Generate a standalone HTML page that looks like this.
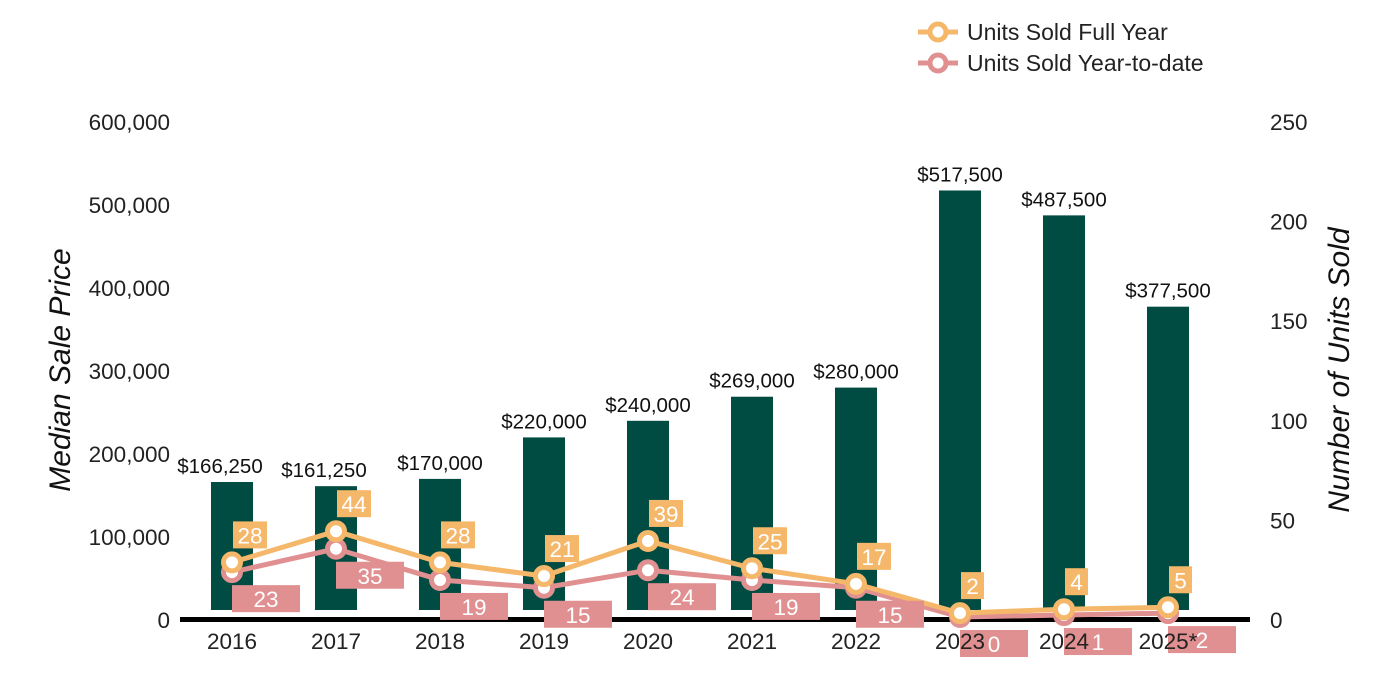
<!DOCTYPE html>
<html><head><meta charset="utf-8"><style>
html,body{margin:0;padding:0;background:#fff;}
svg{display:block;font-family:"Liberation Sans",Arial,sans-serif;}
</style></head><body>
<svg id="chart" width="1400" height="700" viewBox="0 0 1400 700" xmlns="http://www.w3.org/2000/svg">
<g id="legend">
  <g>
    <line x1="918" y1="32" x2="958" y2="32" stroke="#f5b76a" stroke-width="5"/>
    <circle cx="938" cy="32" r="8" fill="#fff" stroke="#f5b76a" stroke-width="5"/>
    <text x="967" y="40" font-size="23" fill="#222">Units Sold Full Year</text>
  </g>
  <g>
    <line x1="918" y1="63" x2="958" y2="63" stroke="#e09090" stroke-width="5"/>
    <circle cx="938" cy="63" r="8" fill="#fff" stroke="#e09090" stroke-width="5"/>
    <text x="967" y="71" font-size="23" fill="#222">Units Sold Year-to-date</text>
  </g>
</g>
<text transform="translate(70,370) rotate(-90)" text-anchor="middle" font-size="30" font-style="italic" fill="#111">Median Sale Price</text>
<text transform="translate(1349,370) rotate(-90)" text-anchor="middle" font-size="30" font-style="italic" fill="#111">Number of Units Sold</text>
<g id="bars"></g>
<g id="lines"></g>
<g id="labels"></g>
<g id="axes"></g>
</svg>
<script>
const categories = ["2016","2017","2018","2019","2020","2021","2022","2023","2024","2025*"];
const prices = [166250,161250,170000,220000,240000,269000,280000,517500,487500,377500];
const unitsFull = [28,44,28,21,39,25,17,2,4,5];
const unitsYtd = [23,35,19,15,24,19,15,0,1,2];
const leftTicks = [0,100000,200000,300000,400000,500000,600000];
const rightTicks = [0,50,100,150,200,250];

const NS = "http://www.w3.org/2000/svg";
function mk(tag, attrs, parent, txt){
  const e = document.createElementNS(NS, tag);
  for (const k in attrs) e.setAttribute(k, attrs[k]);
  if (txt !== undefined) e.textContent = txt;
  parent.appendChild(e);
  return e;
}
const xPos = i => 232 + i * 104;
const yPrice = v => 620 - v * 0.00083;
const yRightTick = v => 620 - v * 1.992;
const yUnits = v => 617 - v * 1.95;
const fmt = n => n.toLocaleString("en-US");

const axes = document.getElementById("axes");
leftTicks.forEach(t => {
  const e = mk("text", {x:170, y:yPrice(t)+8, "text-anchor":"end", "font-size":22.5, fill:"#222"}, axes, fmt(t));
  
  
});
rightTicks.forEach(t => {
  const e = mk("text", {x:1270, y:yRightTick(t)+8, "font-size":22.5, fill:"#222"}, axes, String(t));
  
  
});
categories.forEach((c, i) => {
  const e = mk("text", {x:xPos(i), y:649, "text-anchor":"middle", "font-size":22.5, fill:"#222"}, axes, c);
  
  
});

const bars = document.getElementById("bars");
prices.forEach((p, i) => {
  const y = yPrice(p);
  const r = mk("rect", {x:xPos(i)-21, y:y, width:42, height:610-y, fill:"#004c43"}, bars);
  
  
  const shift = i < 2 ? -12 : 0;
  const t = mk("text", {x:xPos(i)+shift, y:y-9, "text-anchor":"middle", "font-size":20.5, fill:"#111"}, bars, "$" + fmt(p));
  
  
});
const axisLine = mk("line", {x1:180, x2:1250, y1:619.5, y2:619.5, stroke:"#000", "stroke-width":5}, bars);



const lines = document.getElementById("lines");
function series(vals, color, name){
  const pts = vals.map((v,i) => xPos(i) + "," + yUnits(v)).join(" ");
  const pl = mk("polyline", {points:pts, fill:"none", stroke:color, "stroke-width":5, "stroke-linejoin":"round"}, lines);
  
  
  vals.forEach((v,i) => {
    const c = mk("circle", {cx:xPos(i), cy:yUnits(v), r:8.5, fill:"#fff", stroke:color, "stroke-width":5}, lines);
    
    
  });
}
series(unitsYtd, "#e09090", "ytd");
series(unitsFull, "#f5b76a", "full-year");

const labels = document.getElementById("labels");
unitsFull.forEach((v,i) => {
  const s = String(v);
  const w = s.length > 1 ? 34 : 23;
  const y = yUnits(v);
  const g = mk("g", {}, labels);
  
  
  mk("rect", {x:xPos(i)+1, y:y-41, width:w, height:27, fill:"#f5b76a"}, g);
  mk("text", {x:xPos(i)+1+w/2, y:y-19, "text-anchor":"middle", "font-size":22.5, fill:"#fff"}, g, s);
});
unitsYtd.forEach((v,i) => {
  const s = String(v);
  const y = yUnits(v);
  const g = mk("g", {}, labels);
  
  
  mk("rect", {x:xPos(i), y:y+13, width:68, height:27, fill:"#e09090"}, g);
  mk("text", {x:xPos(i)+34, y:y+35, "text-anchor":"middle", "font-size":22.5, fill:"#fff"}, g, s);
});
</script>
</body></html>
